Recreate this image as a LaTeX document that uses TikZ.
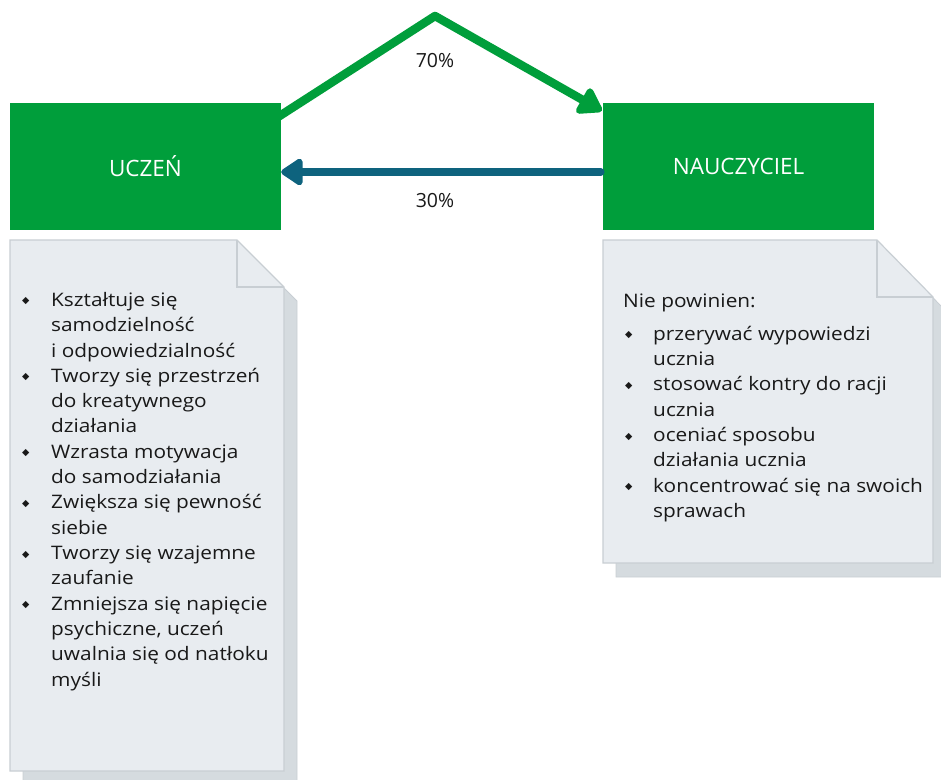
\documentclass[tikz,border=0pt]{standalone}
\usepackage{fontspec}
\setmainfont{Open Sans}
\newfontfamily\bodyfont[FakeStretch=1.12]{Open Sans}
\newfontfamily\symfont{DejaVu Sans}
\usetikzlibrary{arrows.meta}
\pgfdeclarelayer{background}
\pgfsetlayers{background,main}
\definecolor{boxgreen}{RGB}{0,158,59}
\definecolor{arrowblue}{RGB}{14,99,126}
\definecolor{cardfill}{RGB}{232,236,240}
\definecolor{cardline}{RGB}{200,206,211}
\definecolor{cardshadow}{RGB}{213,219,223}
\newcommand{\dia}{\raisebox{2.5pt}{\symfont\fontsize{9.5}{9.5}\selectfont ◆}}
\newcommand{\lbul}{\makebox[29pt][l]{\dia}}
\newcommand{\lind}{\hspace*{29pt}}
\newcommand{\rbul}{\hspace*{2pt}\makebox[28pt][l]{\dia}}
\newcommand{\rind}{\hspace*{30pt}}
\tikzset{
  greenbox/.style={rectangle, fill=boxgreen, draw=none, minimum width=271pt, minimum height=127pt,
    inner sep=0pt, text=white, font=\fontsize{22.5}{26}\selectfont},
  pct/.style={inner sep=0pt, font=\fontsize{19.5}{22}\selectfont, text=black!90},
  card/.style={fill=cardfill, draw=cardline, line width=1.2pt, line join=miter},
  cardshad/.style={fill=cardshadow, draw=cardline, line width=0.8pt},
  foldline/.style={draw=cardline, line width=1.2pt},
  cardtext/.style={anchor=north west, inner sep=0pt, align=left, text=black!90,
    font=\bodyfont\fontsize{18.6}{25.33}\selectfont},
  greenarrow/.style={draw=boxgreen, line width=8.5pt, line join=round,
    -{Triangle[length=26pt,width=32pt,round]}},
  bluearrow/.style={draw=arrowblue, line width=7.5pt, line cap=round,
    -{Triangle[length=24pt,width=30pt,round]}}
}
\begin{document}
\begin{tikzpicture}[x=1pt,y=-1pt]
\clip (0,0) rectangle (941,779);
\useasboundingbox (0,0) rectangle (941,779);

% green boxes
\node[greenbox] (uczen) at (145.5,166.5) {UCZEŃ};
\node[greenbox] (naucz) at (738.5,166.5) {NAUCZYCIEL};

% arrows
\coordinate (apex) at (435,16);
\begin{pgfonlayer}{background}
\draw[greenarrow] ([xshift=-6pt,yshift=-16pt]uczen.north east) -- (apex) -- ([xshift=-1pt,yshift=-8pt]naucz.north west);
\end{pgfonlayer}
\draw[bluearrow] ([xshift=-2pt,yshift=-5.5pt]naucz.west) -- ([yshift=-5.5pt]uczen.east);

\node[pct] (p70) at (435,61) {70\%};
\node[pct] (p30) at (435,201) {30\%};

% left card
\path[cardshad] (23,254) -- (250,254) -- (297,301) -- (297,790) -- (23,790) -- cycle;
\path[card] (10,240) -- (237,240) -- (284,287) -- (284,771) -- (10,771) -- cycle;
\path[foldline] (237,240) -- (237,287) -- (284,287);
\node[cardtext] (ltext) at (22,292) {%
\lbul Kształtuje się\\
\lind samodzielność\\
\lind i odpowiedzialność\\
\lbul Tworzy się przestrzeń\\
\lind do kreatywnego\\
\lind działania\\
\lbul Wzrasta motywacja\\
\lind do samodziałania\\
\lbul Zwiększa się pewność\\
\lind siebie\\
\lbul Tworzy się wzajemne\\
\lind zaufanie\\
\lbul Zmniejsza się napięcie\\
\lind psychiczne, uczeń\\
\lind uwalnia się od natłoku\\
\lind myśli};

% right card
\path[cardshad] (616,254) -- (890,254) -- (946,311) -- (946,577) -- (616,577) -- cycle;
\path[card] (603,240) -- (877,240) -- (933,297) -- (933,563) -- (603,563) -- cycle;
\path[foldline] (877,240) -- (877,297) -- (933,297);
\node[cardtext] (rtext) at (623,294) {%
Nie powinien:\\[7pt]
\rbul przerywać wypowiedzi\\
\rind ucznia\\
\rbul stosować kontry do racji\\
\rind ucznia\\
\rbul oceniać sposobu\\
\rind działania ucznia\\
\rbul koncentrować się na swoich\\
\rind sprawach};
\end{tikzpicture}
\end{document}
